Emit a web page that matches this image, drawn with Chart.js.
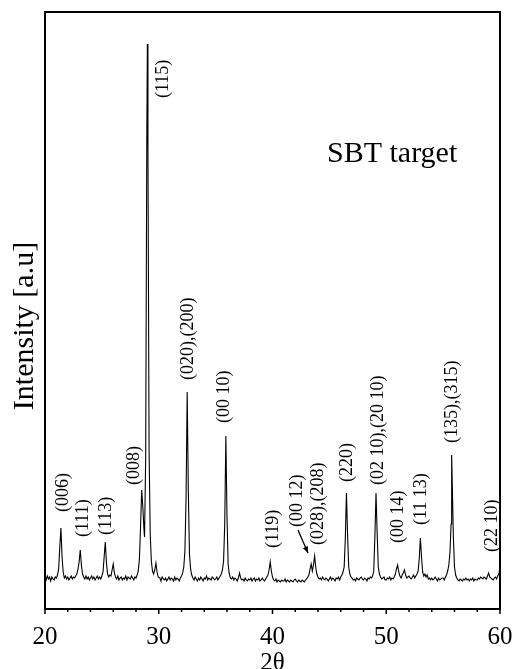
<!DOCTYPE html>
<html>
<head>
<meta charset="utf-8">
<script src="https://cdn.jsdelivr.net/npm/chart.js@4"></script>
<style>
  body { margin: 0; background: #fff; }
  #wrap { width: 515px; height: 669px; position: relative; }
</style>
</head>
<body>
<div id="wrap"><canvas id="xrd"></canvas></div>
<script>
// XRD pattern of the SBT target
const twoTheta = [
  20.0, 20.1, 20.2, 20.3, 20.4, 20.5, 20.6, 20.7, 20.8, 20.9, 21.0, 21.1, 21.2, 21.3, 21.4, 21.5, 21.6, 21.7, 21.8, 21.9,
  22.0, 22.1, 22.2, 22.3, 22.4, 22.5, 22.6, 22.7, 22.8, 22.9, 23.0, 23.1, 23.2, 23.3, 23.4, 23.5, 23.6, 23.7, 23.8, 23.9,
  24.0, 24.1, 24.2, 24.3, 24.4, 24.5, 24.6, 24.7, 24.8, 24.9, 25.0, 25.1, 25.2, 25.3, 25.4, 25.5, 25.6, 25.7, 25.8, 25.9,
  26.0, 26.1, 26.2, 26.3, 26.4, 26.5, 26.6, 26.7, 26.8, 26.9, 27.0, 27.1, 27.2, 27.3, 27.4, 27.5, 27.6, 27.7, 27.8, 27.9,
  28.0, 28.1, 28.2, 28.3, 28.4, 28.5, 28.6, 28.7, 28.75, 28.85, 28.95, 29.0, 29.05, 29.15,
  29.25, 29.35, 29.45, 29.55, 29.65, 29.75, 29.85, 29.95,
  30.1, 30.2, 30.3, 30.4, 30.5, 30.6, 30.7, 30.8, 30.9, 31.0, 31.1, 31.2, 31.3, 31.4, 31.5, 31.6, 31.7, 31.8, 31.9,
  32.0, 32.1, 32.2, 32.3, 32.4, 32.5, 32.6, 32.7, 32.8, 32.9, 33.0, 33.1, 33.2, 33.3, 33.4, 33.5, 33.6, 33.7, 33.8, 33.9,
  34.0, 34.1, 34.2, 34.3, 34.4, 34.5, 34.6, 34.7, 34.8, 34.9, 35.0, 35.1, 35.2, 35.3, 35.4, 35.5, 35.6, 35.7, 35.8, 35.9,
  36.0, 36.1, 36.2, 36.3, 36.4, 36.5, 36.6, 36.7, 36.8, 36.9, 37.0, 37.1, 37.2, 37.3, 37.4, 37.5, 37.6, 37.7, 37.8, 37.9,
  38.0, 38.1, 38.2, 38.3, 38.4, 38.5, 38.6, 38.7, 38.8, 38.9, 39.0, 39.1, 39.2, 39.3, 39.4, 39.5, 39.6, 39.7, 39.8, 39.9,
  40.0, 40.1, 40.2, 40.3, 40.4, 40.5, 40.6, 40.7, 40.8, 40.9, 41.0, 41.1, 41.2, 41.3, 41.4, 41.5, 41.6, 41.7, 41.8, 41.9,
  42.0, 42.1, 42.2, 42.3, 42.4, 42.5, 42.6, 42.7, 42.8, 42.9, 43.0, 43.1, 43.2, 43.3, 43.4, 43.5, 43.6, 43.7, 43.8, 43.9,
  44.0, 44.1, 44.2, 44.3, 44.4, 44.5, 44.6, 44.7, 44.8, 44.9, 45.0, 45.1, 45.2, 45.3, 45.4, 45.5, 45.6, 45.7, 45.8, 45.9,
  46.0, 46.1, 46.2, 46.3, 46.4, 46.5, 46.6, 46.7, 46.8, 46.9, 47.0, 47.1, 47.2, 47.3, 47.4, 47.5, 47.6, 47.7, 47.8, 47.9,
  48.0, 48.1, 48.2, 48.3, 48.4, 48.5, 48.6, 48.7, 48.8, 48.9, 49.0, 49.1, 49.2, 49.3, 49.4, 49.5, 49.6, 49.7, 49.8, 49.9,
  50.0, 50.1, 50.2, 50.3, 50.4, 50.5, 50.6, 50.7, 50.8, 50.9, 51.0, 51.1, 51.2, 51.3, 51.4, 51.5, 51.6, 51.7, 51.8, 51.9,
  52.0, 52.1, 52.2, 52.3, 52.4, 52.5, 52.6, 52.7, 52.8, 52.9, 53.0, 53.1, 53.2, 53.3, 53.4, 53.5, 53.6, 53.7, 53.8, 53.9,
  54.0, 54.1, 54.2, 54.3, 54.4, 54.5, 54.6, 54.7, 54.8, 54.9, 55.0, 55.1, 55.2, 55.3, 55.4, 55.5, 55.6, 55.7, 55.75, 55.8, 55.9,
  56.0, 56.1, 56.2, 56.3, 56.4, 56.5, 56.6, 56.7, 56.8, 56.9, 57.0, 57.1, 57.2, 57.3, 57.4, 57.5, 57.6, 57.7, 57.8, 57.9,
  58.0, 58.1, 58.2, 58.3, 58.4, 58.5, 58.6, 58.7, 58.8, 58.9, 59.0, 59.1, 59.2, 59.3, 59.4, 59.5, 59.6, 59.7, 59.8, 59.9, 60.0
];
const intensity = [
  31, 29, 33, 30, 32, 28, 32, 30, 29, 32, 31, 34, 40, 62, 81, 52, 37, 31, 33, 30,
  32, 29, 31, 33, 30, 32, 31, 33, 35, 40, 47, 59, 44, 35, 32, 30, 33, 30, 32, 29,
  31, 33, 30, 32, 29, 31, 33, 30, 32, 30, 33, 37, 52, 67, 47, 35, 32, 34, 33, 39,
  45, 36, 32, 30, 33, 29, 31, 32, 29, 31, 30, 33, 29, 32, 31, 30, 33, 31, 29, 32,
  31, 34, 38, 50, 82, 119, 102, 80, 72, 150, 470, 565, 460, 160,
  75, 48, 38, 35, 39, 46, 37, 32,
  31, 28, 32, 30, 29, 31, 28, 30, 32, 29, 31, 30, 28, 32, 29, 31, 30, 28, 31,
  33, 36, 42, 58, 110, 217, 118, 55, 40, 34, 31, 29, 32, 30, 28, 31, 29, 32, 30, 28,
  31, 30, 33, 29, 31, 30, 29, 32, 31, 29, 30, 32, 29, 31, 33, 35, 39, 48, 85, 173,
  92, 45, 35, 31, 30, 32, 29, 31, 30, 28, 31, 36, 31, 29, 30, 28, 31, 29, 28, 30,
  29, 31, 28, 30, 31, 28, 30, 29, 31, 28, 29, 31, 29, 28, 30, 32, 34, 39, 47, 38,
  32, 29, 28, 30, 27, 29, 28, 27, 29, 28, 28, 30, 27, 29, 28, 27, 29, 28, 27, 29,
  30, 28, 27, 29, 28, 27, 29, 28, 27, 29, 30, 32, 34, 40, 45, 38, 44, 53, 42, 35,
  32, 30, 31, 29, 32, 30, 29, 31, 30, 28, 30, 32, 29, 31, 30, 28, 31, 30, 32, 29,
  32, 34, 37, 42, 70, 116, 74, 42, 35, 32, 31, 29, 30, 28, 31, 30, 29, 31, 32, 30,
  29, 31, 30, 28, 31, 30, 32, 31, 33, 38, 72, 116, 76, 42, 35, 32, 30, 31, 32, 29,
  29, 31, 30, 32, 29, 31, 30, 32, 35, 40, 44, 37, 33, 31, 34, 36, 39, 34, 31, 32,
  33, 31, 30, 32, 34, 31, 33, 35, 38, 50, 71, 52, 37, 33, 35, 32, 34, 30, 31, 29,
  31, 29, 30, 32, 30, 28, 31, 29, 30, 31, 31, 29, 32, 34, 38, 44, 56, 85, 154, 128, 72,
  42, 34, 31, 29, 28, 30, 29, 28, 30, 29, 31, 29, 30, 28, 30, 29, 31, 28, 30, 29,
  29, 31, 30, 32, 31, 30, 32, 31, 30, 33, 36, 32, 31, 30, 29, 31, 32, 30, 33, 35, 42
];

// x axis ticks
const majorTicks = [20, 30, 40, 50, 60];
const minorStep = 2;

// peak labels (Miller indices) and where their text starts, in data units
const peakLabels = ["(006)", "(111)", "(113)", "(008)", "(115)", "(020),(200)", "(00 10)",
  "(119)", "(00 12)", "(028),(208)", "(220)", "(02 10),(20 10)", "(00 14)", "(11 13)",
  "(135),(315)", "(22 10)"];
const labelTheta = [21.58, 23.34, 25.36, 27.82, 30.37, 32.57, 35.74,
  40.04, 42.15, 44.0, 46.55, 49.27, 51.03, 53.05, 55.78, 59.3];
const labelBase = [97, 72, 74, 124, 511, 229, 186,
  61, 82, 64, 127, 124, 66, 84, 166, 57];

// arrow pointing at the (00 12) shoulder
const arrowFrom = [42.24, 79];
const arrowTo = [43.12, 56];

const serif = "'Liberation Serif', 'Times New Roman', serif";

const decorations = {
  id: "decorations",
  afterDraw(chart) {
    const { ctx, chartArea: a, scales } = chart;
    const xs = scales.x, ys = scales.y;
    ctx.save();
    // frame
    ctx.strokeStyle = "#000";
    ctx.lineWidth = 2;
    ctx.strokeRect(a.left, a.top, a.right - a.left, a.bottom - a.top);
    // ticks below the x axis
    ctx.lineWidth = 1.5;
    for (let v = 20; v <= 60; v += minorStep) {
      const px = xs.getPixelForValue(v);
      const len = majorTicks.includes(v) ? 5 : 3;
      ctx.beginPath();
      ctx.moveTo(px, a.bottom);
      ctx.lineTo(px, a.bottom + len);
      ctx.stroke();
    }
    // peak labels
    ctx.fillStyle = "#000";
    ctx.font = "18px " + serif;
    ctx.textAlign = "left";
    ctx.textBaseline = "middle";
    peakLabels.forEach((txt, i) => {
      const px = xs.getPixelForValue(labelTheta[i]);
      const py = ys.getPixelForValue(labelBase[i]);
      ctx.save();
      ctx.translate(px, py);
      ctx.rotate(-Math.PI / 2);
      ctx.fillText(txt, 0, 0);
      ctx.restore();
    });
    // arrow
    const x1 = xs.getPixelForValue(arrowFrom[0]), y1 = ys.getPixelForValue(arrowFrom[1]);
    const x2 = xs.getPixelForValue(arrowTo[0]), y2 = ys.getPixelForValue(arrowTo[1]);
    ctx.lineWidth = 1.3;
    ctx.beginPath();
    ctx.moveTo(x1, y1);
    ctx.lineTo(x2, y2);
    ctx.stroke();
    const ang = Math.atan2(y2 - y1, x2 - x1);
    ctx.beginPath();
    ctx.moveTo(x2, y2);
    ctx.lineTo(x2 - 7 * Math.cos(ang - 0.4), y2 - 7 * Math.sin(ang - 0.4));
    ctx.lineTo(x2 - 7 * Math.cos(ang + 0.4), y2 - 7 * Math.sin(ang + 0.4));
    ctx.closePath();
    ctx.fill();
    // sample name
    ctx.font = "30px " + serif;
    ctx.textAlign = "left";
    ctx.textBaseline = "alphabetic";
    ctx.fillText("SBT target", a.left + 282, a.top + 150);
    // y axis title
    ctx.save();
    ctx.translate(a.left - 20, a.top + 314);
    ctx.rotate(-Math.PI / 2);
    ctx.textAlign = "center";
    ctx.textBaseline = "middle";
    ctx.fillText("Intensity [a.u]", 0, 0);
    ctx.restore();
    ctx.restore();
  }
};

new Chart(document.getElementById("xrd"), {
  type: "line",
  data: {
    datasets: [{
      data: twoTheta.map((t, i) => ({ x: t, y: intensity[i] })),
      borderColor: "#000",
      borderWidth: 1.1,
      pointRadius: 0,
      tension: 0,
      fill: false
    }]
  },
  options: {
    responsive: true,
    maintainAspectRatio: false,
    animation: false,
    layout: { padding: { top: 12, right: 15, left: 0, bottom: 0 } },
    plugins: { legend: { display: false }, tooltip: { enabled: false } },
    scales: {
      x: {
        type: "linear",
        min: 20,
        max: 60,
        afterFit: (s) => { s.height = 60; s.paddingLeft = 0; s.paddingRight = 0; },
        afterBuildTicks: (s) => { s.ticks = majorTicks.map((v) => ({ value: v })); },
        ticks: { color: "#000", font: { family: serif, size: 25 }, padding: 5, maxRotation: 0 },
        grid: { display: false },
        border: { display: false },
        title: { display: true, text: "2θ", color: "#000", font: { family: serif, size: 25, lineHeight: 1 }, padding: { top: 0, bottom: -7 } }
      },
      y: {
        min: 0,
        max: 597,
        afterFit: (s) => { s.width = 45; },
        ticks: { display: false },
        grid: { display: false },
        border: { display: false }
      }
    }
  },
  plugins: [decorations]
});
</script>
</body>
</html>
